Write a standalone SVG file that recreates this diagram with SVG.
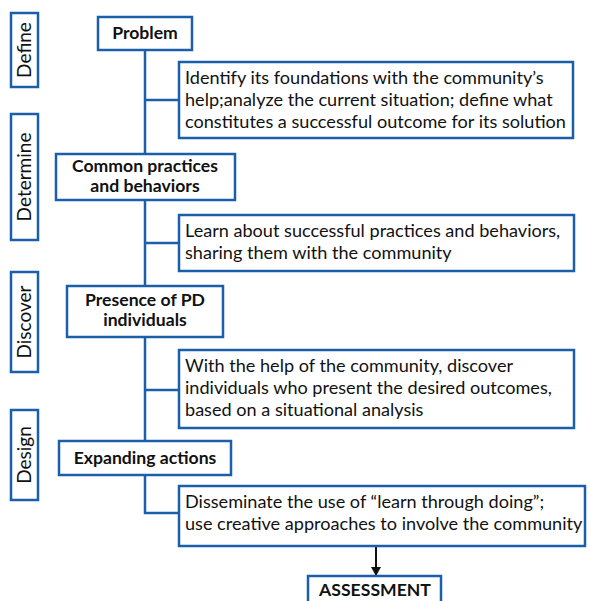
<svg xmlns="http://www.w3.org/2000/svg" width="590" height="601" viewBox="0 0 590 601">
<style>
.b{fill:#fff;stroke:#1b5fab;stroke-width:2.5}
.c{fill:none;stroke:#1b5fab;stroke-width:2.5}
.t{font-family:Lato,"Open Sans",sans-serif;font-size:18.1px;fill:#111}
.h{font-family:Lato,"Open Sans",sans-serif;font-size:17.6px;font-weight:bold;fill:#111;text-anchor:middle}
.v{font-family:Lato,"Open Sans",sans-serif;font-size:19px;fill:#111;text-anchor:middle}
</style>
<defs>
<marker id="ah" markerWidth="10" markerHeight="10" refX="9" refY="5" orient="auto" markerUnits="userSpaceOnUse" viewBox="0 0 10 10">
<path d="M0,0 L9,5 L0,10 Z" fill="#111"/>
</marker>
</defs>
<g id="connectors">
<path class="c" d="M145,50 V513 H179"/>
<path class="c" d="M145,100 H179"/>
<path class="c" d="M145,243 H179"/>
<path class="c" d="M145,390 H179"/>
<path d="M376,546 V576" stroke="#111" stroke-width="2" fill="none" marker-end="url(#ah)"/>
</g>
<g id="stage-define"><rect class="b" x="11" y="13" width="27" height="74"/><text class="v" transform="translate(31,50) rotate(-90)">Define</text></g>
<g id="stage-determine"><rect class="b" x="11" y="114" width="27" height="126"/><text class="v" transform="translate(31,177) rotate(-90)">Determine</text></g>
<g id="stage-discover"><rect class="b" x="11" y="272" width="27" height="100"/><text class="v" transform="translate(31,322) rotate(-90)">Discover</text></g>
<g id="stage-design"><rect class="b" x="11" y="410" width="27" height="90"/><text class="v" transform="translate(31,455) rotate(-90)">Design</text></g>
<g id="problem"><rect class="b" x="98" y="17" width="94" height="33"/><text class="h" x="145" y="39">Problem</text></g>
<g id="desc1"><rect class="b" x="179" y="62" width="394" height="76"/>
<text class="t" x="185" y="84">Identify its foundations with the community’s</text>
<text class="t" x="185" y="106">help;analyze the current situation; define what</text>
<text class="t" x="185" y="128">constitutes a successful outcome for its solution</text></g>
<g id="common"><rect class="b" x="56" y="154" width="179" height="46"/><text class="h" x="145" y="172">Common practices</text><text class="h" x="145" y="192">and behaviors</text></g>
<g id="desc2"><rect class="b" x="179" y="215" width="395" height="56"/>
<text class="t" x="185" y="237">Learn about successful practices and behaviors,</text>
<text class="t" x="185" y="259">sharing them with the community</text></g>
<g id="presence"><rect class="b" x="67" y="286" width="156" height="51"/><text class="h" x="145" y="306">Presence of PD</text><text class="h" x="145" y="326">individuals</text></g>
<g id="desc3"><rect class="b" x="179" y="350" width="395" height="78"/>
<text class="t" x="185" y="372">With the help of the community, discover</text>
<text class="t" x="185" y="394">individuals who present the desired outcomes,</text>
<text class="t" x="185" y="416">based on a situational analysis</text></g>
<g id="expanding"><rect class="b" x="59" y="441" width="172" height="34"/><text class="h" x="145" y="464">Expanding actions</text></g>
<g id="desc4"><rect class="b" x="179" y="486" width="406" height="60"/>
<text class="t" x="185" y="508">Disseminate the use of “learn through doing”;</text>
<text class="t" x="185" y="530">use creative approaches to involve the community</text></g>
<g id="assessment"><rect class="b" x="308" y="576" width="133" height="30"/><text class="h" x="375" y="596">ASSESSMENT</text></g>
</svg>
